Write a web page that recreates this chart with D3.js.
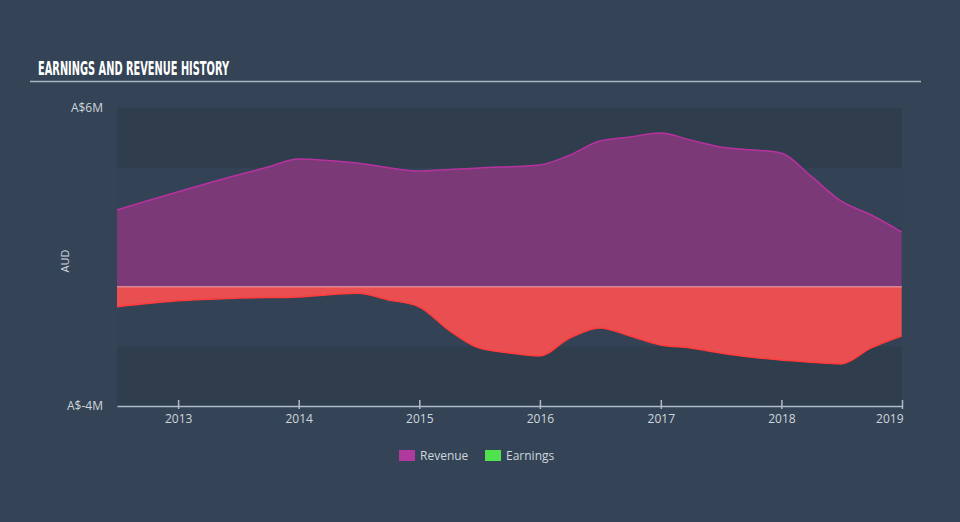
<!DOCTYPE html>
<html>
<head>
<meta charset="utf-8">
<script src="https://cdn.jsdelivr.net/npm/d3@7"></script>
<style>
  html, body { margin: 0; padding: 0; background: #344456; }
  svg { display: block; }
</style>
</head>
<body>
<svg id="chart" width="960" height="522"></svg>
<script>
// ---- Data ----
const revenueDates = ["2012-06-30","2013-06-30","2013-09-30","2013-12-31","2014-06-30","2014-12-31","2015-06-30","2015-12-31","2016-03-31","2016-06-30","2016-09-30","2016-12-31","2017-03-31","2017-06-30","2017-09-30","2017-12-31","2018-03-31","2018-06-30","2018-09-30","2018-12-31"];
const revenueValues = [2.58, 3.75, 4.02, 4.29, 4.15, 3.89, 3.99, 4.09, 4.42, 4.89, 5.03, 5.16, 4.93, 4.69, 4.60, 4.49, 3.72, 2.88, 2.41, 1.84];

const earningsDates = ["2012-06-30","2012-12-31","2013-06-30","2013-12-31","2014-06-30","2014-09-30","2014-12-31","2015-03-31","2015-06-30","2015-09-30","2015-12-31","2016-03-31","2016-06-30","2016-09-30","2016-12-31","2017-03-31","2017-06-30","2017-09-30","2017-12-31","2018-03-31","2018-06-30","2018-09-30","2018-12-31"];
const earningsValues = [-0.67, -0.47, -0.38, -0.34, -0.22, -0.44, -0.67, -1.45, -2.05, -2.22, -2.32, -1.72, -1.38, -1.65, -1.95, -2.05, -2.22, -2.36, -2.46, -2.53, -2.59, -2.05, -1.65];

const yTickValues = [6, -4];
const yTickLabels = ["A$6M", "A$-4M"];
const xTickYears = [2013, 2014, 2015, 2016, 2017, 2018, 2019];
const legendLabels = ["Revenue", "Earnings"];
const legendColors = ["#b0399e", "#4fe34f"];
const titleText = "EARNINGS AND REVENUE HISTORY";

// ---- Setup ----
const svg = d3.select("#chart");
const parse = d3.timeParse("%Y-%m-%d");
const revenue = revenueDates.map((d, i) => ({ date: parse(d), value: revenueValues[i] }));
const earnings = earningsDates.map((d, i) => ({ date: parse(d), value: earningsValues[i] }));

const pLeft = 117, pRight = 902, pTop = 108, pBottom = 406;
const x = d3.scaleTime()
  .domain([parse("2012-06-30"), parse("2019-01-01")])
  .range([pLeft, pRight]);
const y = d3.scaleLinear().domain([-4, 6]).range([pBottom, pTop]);

// Title
svg.append("text")
  .attr("x", 38).attr("y", 75)
  .attr("fill", "#ffffff")
  .attr("font-family", "'DejaVu Sans Condensed', 'DejaVu Sans', sans-serif")
  .attr("font-stretch", "condensed")
  .attr("font-weight", "bold")
  .attr("font-size", 19)
  .attr("textLength", 191)
  .attr("lengthAdjust", "spacingAndGlyphs")
  .text(titleText);
svg.append("line")
  .attr("x1", 30).attr("x2", 921).attr("y1", 81.5).attr("y2", 81.5)
  .attr("stroke", "#a9b3bd").attr("stroke-width", 1.5);

// Plot background bands (every 2M)
const bandEdges = d3.range(-4, 6, 2);
svg.append("g").selectAll("rect")
  .data(bandEdges)
  .join("rect")
  .attr("x", pLeft)
  .attr("width", pRight - pLeft)
  .attr("y", d => y(d + 2))
  .attr("height", d => y(d) - y(d + 2))
  .attr("fill", (d, i) => i % 2 === 0 ? "#2f3d4d" : "#334254");

// Areas
const curve = d3.curveMonotoneX;
const revArea = d3.area().x(d => x(d.date)).y0(y(0)).y1(d => y(d.value)).curve(curve);
const revLine = d3.line().x(d => x(d.date)).y(d => y(d.value)).curve(curve);
const earnArea = d3.area().x(d => x(d.date)).y0(y(0)).y1(d => y(d.value)).curve(curve);
const earnLine = d3.line().x(d => x(d.date)).y(d => y(d.value)).curve(curve);

svg.append("path").datum(revenue).attr("d", revArea).attr("fill", "#7b3978");
svg.append("path").datum(revenue).attr("d", revLine)
  .attr("fill", "none").attr("stroke", "#b8329f").attr("stroke-width", 1.5);

svg.append("path").datum(earnings).attr("d", earnArea).attr("fill", "#e94e51");
svg.append("path").datum(earnings).attr("d", earnLine)
  .attr("fill", "none").attr("stroke", "#ff3c3c").attr("stroke-width", 1.5);

// Zero line
svg.append("line")
  .attr("x1", pLeft).attr("x2", pRight).attr("y1", y(0)).attr("y2", y(0))
  .attr("stroke", "#f4a7b3").attr("stroke-width", 1);

// X axis
const xAxis = d3.axisBottom(x)
  .tickValues(xTickYears.map(yr => new Date(yr, 0, 1)))
  .tickFormat(d3.timeFormat("%Y"))
  .tickSize(6).tickSizeOuter(0);
const gx = svg.append("g").attr("transform", `translate(0,${pBottom})`).call(xAxis);
gx.select(".domain").attr("stroke", "#aebbc8").attr("stroke-width", 1.5);
gx.selectAll(".tick line").attr("stroke", "#aebbc8").attr("stroke-width", 1.5).attr("y1", -6).attr("y2", 3);
gx.selectAll(".tick text")
  .attr("fill", "#cfd6dd")
  .attr("font-family", "'Open Sans', sans-serif")
  .attr("font-size", 12)
  .attr("dy", "0.7em").attr("y", 9);
// last label is kept inside the plot edge
gx.selectAll(".tick text").filter((d, i, n) => i === n.length - 1)
  .attr("text-anchor", "end").attr("x", 1);

// Y labels
svg.append("g").selectAll("text")
  .data(yTickValues)
  .join("text")
  .attr("x", 103)
  .attr("y", d => y(d) + 4)
  .attr("text-anchor", "end")
  .attr("fill", "#cfd6dd")
  .attr("font-family", "'Open Sans', sans-serif")
  .attr("font-size", 12)
  .text((d, i) => yTickLabels[i]);

svg.append("text")
  .attr("transform", "translate(69,261) rotate(-90)")
  .attr("text-anchor", "middle")
  .attr("fill", "#cfd6dd")
  .attr("font-family", "'Open Sans', sans-serif")
  .attr("font-size", 11)
  .text("AUD");

// Legend
const legendX = [399, 485];
const lg = svg.append("g").selectAll("g")
  .data(legendLabels)
  .join("g")
  .attr("transform", (d, i) => `translate(${legendX[i]},450)`);
lg.append("rect").attr("width", 16).attr("height", 11).attr("fill", (d, i) => legendColors[i]);
lg.append("text")
  .attr("x", 21).attr("y", 10)
  .attr("fill", "#cfd6dd")
  .attr("font-family", "'Open Sans', sans-serif")
  .attr("font-size", 12)
  .text(d => d);
</script>
</body>
</html>
